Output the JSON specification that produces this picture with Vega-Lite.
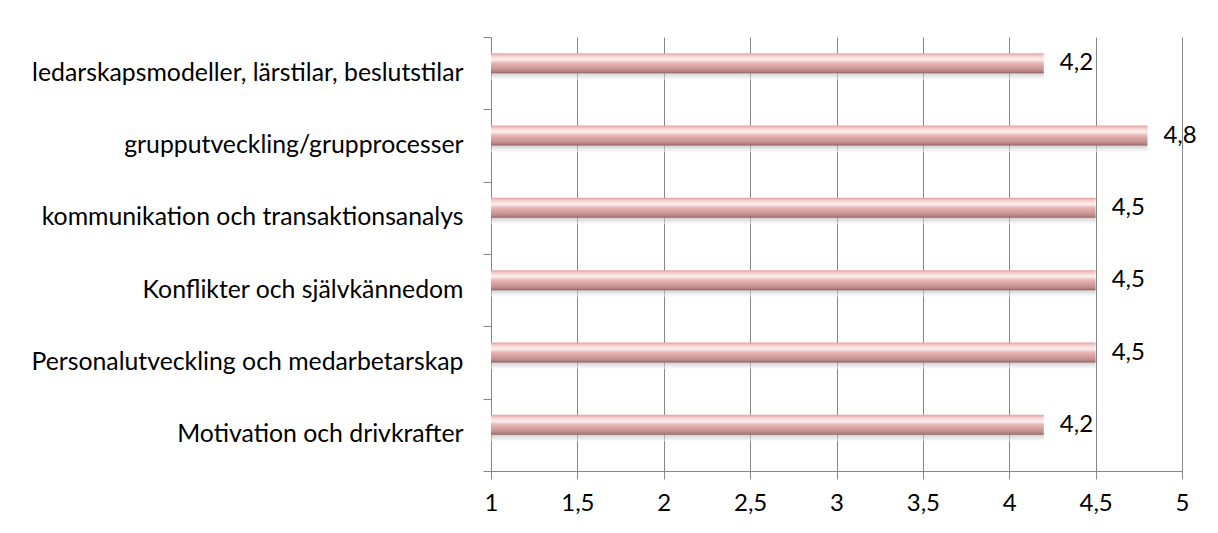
{
  "$schema": "https://vega.github.io/schema/vega-lite/v6.json",
  "width": 691,
  "height": 434,
  "autosize": "none",
  "padding": {"left": 491, "top": 37, "right": 36, "bottom": 62},
  "background": "white",
  "config": {
    "locale": {"number": {"decimal": ",", "thousands": " ", "grouping": [3], "currency": ["", " kr"]}},
    "view": {"stroke": null},
    "font": "Lato"
  },
  "data": {
    "values": [
      {"topic": "ledarskapsmodeller, lärstilar, beslutstilar", "value": 4.2},
      {"topic": "grupputveckling/grupprocesser", "value": 4.8},
      {"topic": "kommunikation och transaktionsanalys", "value": 4.5},
      {"topic": "Konflikter och självkännedom", "value": 4.5},
      {"topic": "Personalutveckling och medarbetarskap", "value": 4.5},
      {"topic": "Motivation och drivkrafter", "value": 4.2}
    ]
  },
  "encoding": {
    "y": {
      "field": "topic",
      "type": "nominal",
      "sort": null,
      "scale": {"paddingInner": 0, "paddingOuter": 0},
      "axis": {
        "title": null,
        "domain": true,
        "domainColor": "#868686",
        "domainWidth": 1,
        "ticks": true,
        "tickBand": "extent",
        "tickSize": 8,
        "tickColor": "#868686",
        "labelPadding": 20,
        "labelFont": "Lato",
        "labelFontSize": 24.8,
        "labelColor": "#000000",
        "labelLimit": 0,
        "grid": false
      }
    },
    "x": {
      "field": "value",
      "type": "quantitative",
      "scale": {"domain": [1, 5], "nice": false, "zero": false},
      "axis": {
        "title": null,
        "values": [1, 1.5, 2, 2.5, 3, 3.5, 4, 4.5, 5],
        "format": ".1~f",
        "grid": true,
        "gridColor": "#868686",
        "gridWidth": 1,
        "domainColor": "#868686",
        "tickColor": "#868686",
        "tickSize": 8,
        "labelPadding": 12,
        "labelFont": "Lato",
        "labelFontSize": 24,
        "labelColor": "#000000",
        "labelFlush": false
      }
    }
  },
  "layer": [
    {
      "mark": {
        "type": "bar",
        "size": 7,
        "yOffset": 3,
        "opacity": 0.55,
        "color": {
          "gradient": "linear", "x1": 0, "y1": 0, "x2": 0, "y2": 1,
          "stops": [
            {"offset": 0, "color": "#a8a8a8"},
            {"offset": 1, "color": "#ffffff"}
          ]
        }
      },
      "encoding": {"x2": {"datum": 1}}
    },
    {
      "mark": {
        "type": "bar",
        "size": 20,
        "yOffset": -10,
        "color": {
          "gradient": "linear", "x1": 0, "y1": 0, "x2": 0, "y2": 1,
          "stops": [
            {"offset": 0, "color": "#e3a0a0"},
            {"offset": 0.15, "color": "#f6d2d2"},
            {"offset": 0.32, "color": "#fdf0f0"},
            {"offset": 0.5, "color": "#e8b4b4"},
            {"offset": 0.8, "color": "#c99494"},
            {"offset": 0.93, "color": "#b07c7c"},
            {"offset": 1, "color": "#8a5c5c"}
          ]
        }
      },
      "encoding": {"x2": {"datum": 1}}
    },
    {
      "mark": {
        "type": "text",
        "align": "left",
        "baseline": "middle",
        "dx": 16,
        "yOffset": -10,
        "font": "Lato",
        "fontSize": 24,
        "color": "#000000"
      },
      "encoding": {
        "text": {"field": "value", "type": "quantitative", "format": ".1f"}
      }
    }
  ]
}
